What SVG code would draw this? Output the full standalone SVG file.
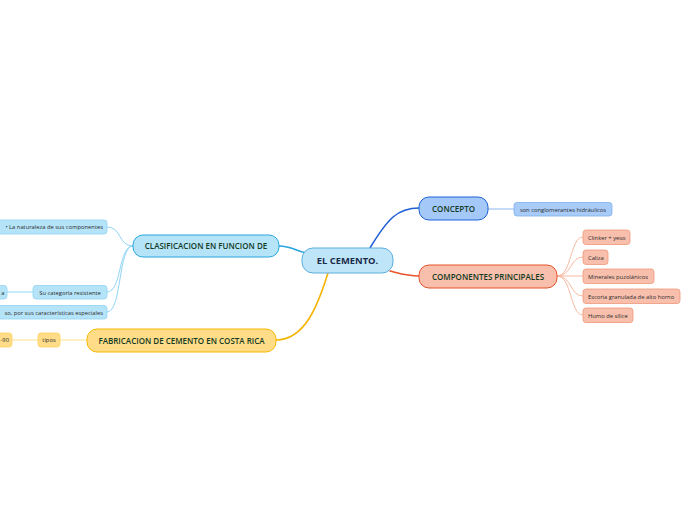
<svg xmlns="http://www.w3.org/2000/svg" width="696" height="520" viewBox="0 0 696 520">
<style>
text{font-family:"Open Sans","Noto Sans","DejaVu Sans",sans-serif;}
.main{font-size:8px;fill:#133a22;text-anchor:middle;font-weight:600;}
.sub{font-size:5.8px;fill:#2a2a2a;}
.c{fill:none;stroke-linecap:round;}
</style>
<rect width="696" height="520" fill="#fff"/>
<g id="connectors">
<path class="c" d="M279,246 C292,246 295,251 306,253" stroke="#2aa5e0" stroke-width="1.6"/>
<path class="c" d="M328,273 C318,305 305,340 276,340" stroke="#f5b400" stroke-width="1.6"/>
<path class="c" d="M370,248 C388,218 398,208 419,208" stroke="#1f5fd6" stroke-width="1.6"/>
<path class="c" d="M390,271 C402,274 408,276 419,276" stroke="#e8532a" stroke-width="1.6"/>
<path class="c" d="M488,209 L514,209" stroke="#8ab6ef" stroke-width="1"/>
<g stroke="#f8b9a3" stroke-width="1" fill="none">
<path d="M557,276 C572,276 570,237 583,237"/>
<path d="M557,276 C572,276 570,257 583,257"/>
<path d="M557,276 L583,276"/>
<path d="M557,276 C572,276 570,296 583,296"/>
<path d="M557,276 C572,276 570,315 583,315"/>
</g>
<g stroke="#8fd5f6" stroke-width="1" fill="none">
<path d="M133,246 C118,246 122,227 107,227"/>
<path d="M133,246 C118,246 122,292 107,292"/>
<path d="M133,246 C118,246 122,312 107,312"/>
<path d="M33,292 L7,292"/>
</g>
<g stroke="#ffe08a" stroke-width="1" fill="none">
<path d="M87,340 L60,340"/>
<path d="M38,340 L12,340"/>
</g>
</g>
<g id="n-center">
<rect x="302" y="248" width="91" height="25" rx="11" fill="#bfe6f8" stroke="#5aaede" stroke-width="1"/>
<text x="347.5" y="264.2" font-size="9.4" font-weight="bold" fill="#1b2b4b" text-anchor="middle">EL CEMENTO.</text>
</g>
<g id="n-concepto">
<rect x="419" y="197" width="69" height="23" rx="10" fill="#a4c8f8" stroke="#1f62d8" stroke-width="1"/>
<text class="main" x="453.5" y="211.5">CONCEPTO</text>
</g>
<g id="n-concepto-1">
<rect x="514" y="202.5" width="98" height="13.5" rx="3" fill="#a8cbf7" stroke="#7fb0ee" stroke-width="0.8"/>
<text class="sub" x="563" y="211.5" text-anchor="middle">son conglomerantes hidráulicos</text>
</g>
<g id="n-componentes">
<rect x="419" y="265" width="138" height="23" rx="10" fill="#f8bfac" stroke="#e8532a" stroke-width="1"/>
<text class="main" x="488" y="279.5">COMPONENTES PRINCIPALES</text>
</g>
<g id="n-comp-1">
<rect x="583" y="230" width="47" height="14.5" rx="3" fill="#f8bfac" stroke="#f0987a" stroke-width="0.8"/>
<text class="sub" x="588" y="239.5">Clinker + yeso</text>
</g>
<g id="n-comp-2">
<rect x="583" y="250" width="25" height="14.5" rx="3" fill="#f8bfac" stroke="#f0987a" stroke-width="0.8"/>
<text class="sub" x="588" y="259.5">Caliza</text>
</g>
<g id="n-comp-3">
<rect x="583" y="269" width="71" height="14.5" rx="3" fill="#f8bfac" stroke="#f0987a" stroke-width="0.8"/>
<text class="sub" x="588" y="278.5">Minerales puzolánicos</text>
</g>
<g id="n-comp-4">
<rect x="583" y="289" width="97" height="14.5" rx="3" fill="#f8bfac" stroke="#f0987a" stroke-width="0.8"/>
<text class="sub" x="588" y="298.5">Escoria granulada de alto horno</text>
</g>
<g id="n-comp-5">
<rect x="583" y="308" width="50" height="14.5" rx="3" fill="#f8bfac" stroke="#f0987a" stroke-width="0.8"/>
<text class="sub" x="588" y="317.5">Humo de sílice</text>
</g>
<g id="n-clasificacion">
<rect x="133" y="235" width="146" height="22" rx="10" fill="#b5e4f8" stroke="#29a8e0" stroke-width="1"/>
<text class="main" x="206" y="249">CLASIFICACION EN FUNCION DE</text>
</g>
<g id="n-clas-1">
<rect x="-20" y="220" width="127" height="14" rx="3" fill="#b5e4f8" stroke="#8fd3f5" stroke-width="0.8"/>
<text class="sub" x="103" y="229" text-anchor="end">• La naturaleza de sus componentes</text>
</g>
<g id="n-clas-2">
<rect x="33" y="285.5" width="74" height="13.5" rx="3" fill="#b5e4f8" stroke="#8fd3f5" stroke-width="0.8"/>
<text class="sub" x="70" y="294.5" text-anchor="middle">Su categoría resistente</text>
</g>
<g id="n-clas-2-1">
<rect x="-20" y="285.5" width="27" height="13.5" rx="3" fill="#b5e4f8" stroke="#8fd3f5" stroke-width="0.8"/>
<text class="sub" x="4.5" y="294.5" text-anchor="end">a</text>
</g>
<g id="n-clas-3">
<rect x="-20" y="305.5" width="127" height="13.5" rx="3" fill="#b5e4f8" stroke="#8fd3f5" stroke-width="0.8"/>
<text class="sub" x="103" y="314.5" text-anchor="end">so, por sus características especiales</text>
</g>
<g id="n-fabricacion">
<rect x="87" y="329" width="189" height="23" rx="10" fill="#ffdc88" stroke="#f5b800" stroke-width="1"/>
<text class="main" x="181.5" y="343.5">FABRICACION DE CEMENTO EN COSTA RICA</text>
</g>
<g id="n-tipos">
<rect x="38" y="333" width="22" height="14" rx="3" fill="#ffdc88" stroke="#ffd060" stroke-width="0.8"/>
<text class="sub" x="49" y="342" text-anchor="middle">tipos</text>
</g>
<g id="n-tipos-1">
<rect x="-20" y="333" width="32" height="14" rx="3" fill="#ffdc88" stroke="#ffd060" stroke-width="0.8"/>
<text class="sub" x="9" y="342" text-anchor="end">-90</text>
</g>
</svg>
